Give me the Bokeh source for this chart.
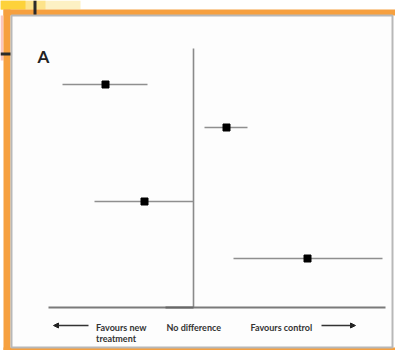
from bokeh.plotting import figure
from bokeh.models import Range1d, Arrow, NormalHead, ColumnDataSource, BoxAnnotation
from bokeh.core.properties import value
from bokeh.embed import file_html
from bokeh.resources import INLINE

# ---- data (effect scale: 0 = no difference) ----
study_pos = [26.6, 22.3, 14.9, 9.2]          # vertical position of each study
estimate = [-4.4, 1.65, -2.45, 5.7]
ci_low = [-6.55, 0.55, -4.95, 2.0]
ci_high = [-2.3, 2.7, 0.0, 9.45]

axis_min, axis_max = -7.25, 9.6
axis_y = 4.3
line_top = 30.2
panel_label = "A"
left_label = ["Favours new", "treatment"]
mid_label = "No difference"
right_label = "Favours control"

p = figure(width=395, height=350, output_backend="svg", toolbar_location=None,
           x_range=Range1d(-9.65, 10.1), y_range=Range1d(0, 35), min_border=0)
p.axis.visible = False
p.grid.visible = False
p.border_fill_color = "white"
p.background_fill_color = "white"
p.outline_line_color = None


def band(l, r, b, t, color, alpha=1.0, line_color=None, line_width=0):
    p.add_layout(BoxAnnotation(left=l, right=r, bottom=b, top=t, left_units="screen",
                               right_units="screen", top_units="screen", bottom_units="screen",
                               fill_color=color, fill_alpha=alpha,
                               line_color=line_color, line_width=line_width,
                               line_alpha=1 if line_color else 0, level="underlay"))


# decorative slide frame (screen units, origin bottom-left)
band(0, 80, 341, 350, "#fdf1c4", 1.0)
band(0, 45, 341, 350, "#fde38a", 1.0)
band(0, 25, 341, 350, "#fdd23a", 1.0)
band(0, 3, 290, 335, "#f9c0b8", 0.9)
band(3, 10, 0, 341, "#f6a03f")
band(3, 395, 335, 341, "#f6a03f")
band(3, 395, 0, 3, "#f6a03f")
band(11, 392, 3, 335, "#fdfdfd", 1.0, "#b8b8b8", 2)
band(33, 36, 336, 350, "#2a2a2a")
band(0, 10, 295, 298, "#2a2a2a")

src = ColumnDataSource(dict(y=study_pos, est=estimate, lo=ci_low, hi=ci_high))

# line of no difference
p.segment(x0=[0], y0=[axis_y], x1=[0], y1=[line_top], line_color="#8a8a8a", line_width=1.6)
# horizontal axis
p.segment(x0=[axis_min], y0=[axis_y], x1=[axis_max], y1=[axis_y], line_color="#7a7a7a", line_width=2)
p.segment(x0=[-1.4], y0=[axis_y], x1=[0], y1=[axis_y], line_color="#666666", line_width=2)

# confidence intervals and point estimates
p.segment(x0="lo", y0="y", x1="hi", y1="y", source=src, line_color="#8f8f8f", line_width=1.6)
p.scatter(x="est", y="y", source=src, marker="square", size=7, fill_color="black", line_color="black")

# panel label
p.text(x=[-7.8], y=[29.4], text=[panel_label], text_font=value("Lato"), text_font_style="bold",
       text_font_size="17px", text_color="#222222", text_align="left", text_baseline="middle")

# bottom labels
lab_font = dict(text_font=value("Lato"), text_font_style="bold", text_font_size="9px",
                text_color="#333333", text_align="left", text_baseline="middle")
p.text(x=[-4.87, -4.87], y=[2.3, 1.2], text=left_label, **lab_font)
p.text(x=[-1.35], y=[2.3], text=[mid_label], **lab_font)
p.text(x=[2.85], y=[2.3], text=[right_label], **lab_font)

p.add_layout(Arrow(end=NormalHead(size=5, fill_color="#222222", line_color="#222222"),
                   x_start=-5.25, y_start=2.5, x_end=-7.0, y_end=2.5,
                   line_color="#333333", line_width=1.3))
p.add_layout(Arrow(end=NormalHead(size=5, fill_color="#222222", line_color="#222222"),
                   x_start=6.4, y_start=2.5, x_end=8.1, y_end=2.5,
                   line_color="#333333", line_width=1.3))

open("out.html", "w").write(file_html(p, INLINE))
